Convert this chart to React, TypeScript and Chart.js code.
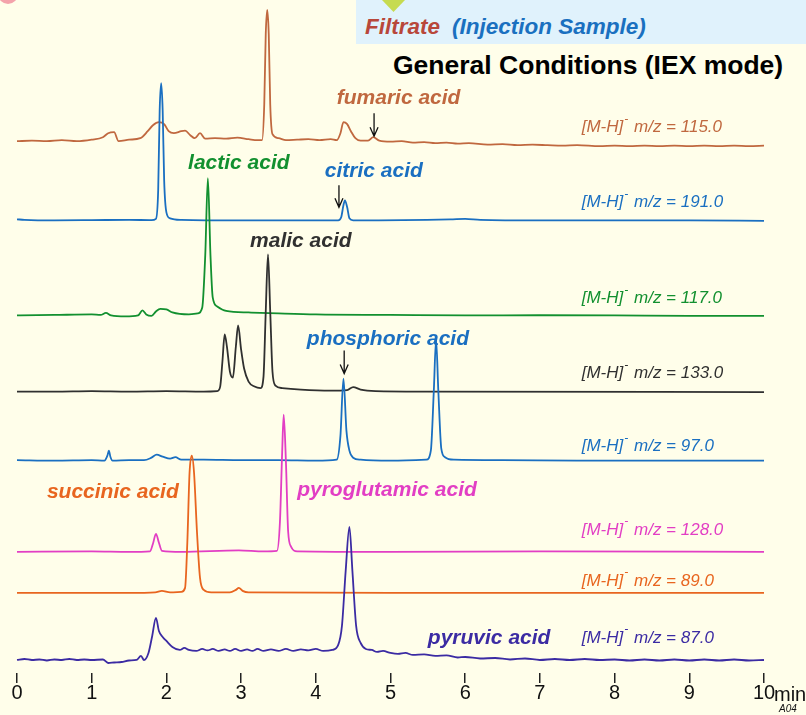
import React, { useEffect, useRef } from 'react';
import { Chart, registerables } from 'chart.js';

Chart.register(...registerables);

type Pt = [number, number];

// ---------------- DATA ----------------
const TIME_MIN = 0;
const TIME_MAX = 10;
const TIME_STEP = 1;

const COMPOUNDS = ['fumaric acid', 'citric acid', 'lactic acid', 'malic acid', 'phosphoric acid', 'pyroglutamic acid', 'succinic acid', 'pyruvic acid'];
const MZ_VALUES = ['115.0', '191.0', '117.0', '133.0', '97.0', '128.0', '89.0', '87.0'];
// stacking offset (baseline) of each trace, arbitrary intensity units
const BASELINES = [52.8, 45.2, 35.7, 28.1, 21.2, 12.1, 8.0, 1.2];

// [time (min), signal above baseline]
const FUMARIC: Pt[] = [
  [0, 0.3], [0.2, 0.35], [0.4, 0.3], [0.6, 0.4], [0.8, 0.3], [1.0, 0.45], [1.15, 0.7], [1.22, 1.1], [1.3, 1.2], [1.36, 0.3],
  [1.5, 0.45], [1.65, 0.6], [1.75, 1.3], [1.82, 1.9], [1.9, 2.2], [1.97, 2.0], [2.03, 1.3], [2.1, 1.1], [2.2, 1.3], [2.25, 1.35],
  [2.32, 0.9], [2.38, 0.6], [2.45, 1.1], [2.52, 0.55], [2.65, 0.6], [2.8, 0.55], [2.95, 0.65], [3.1, 0.5], [3.22, 0.4], [3.28, 0.4],
  [3.31, 4], [3.33, 11], [3.35, 13.4], [3.37, 11], [3.39, 4], [3.42, 1.0], [3.5, 0.6], [3.6, 0.4], [3.75, 0.45], [3.9, 0.5],
  [4.05, 0.4], [4.2, 0.5], [4.28, 0.4], [4.33, 1.1], [4.37, 2.2], [4.42, 2.0], [4.47, 1.3], [4.53, 0.6], [4.6, 0.35], [4.7, 0.35],
  [4.77, 0.7], [4.85, 0.35], [5.0, 0.25], [5.15, 0.3], [5.3, 0.15], [5.45, 0.2], [5.6, 0.1], [5.75, 0.15], [5.9, 0.05], [6.05, 0.1],
  [6.3, -0.05], [6.5, 0.0], [6.7, -0.1], [6.9, -0.05], [7.1, -0.1], [7.3, -0.15], [7.5, -0.1], [7.8, -0.2], [8.0, -0.15], [8.2, -0.2],
  [8.4, -0.15], [8.6, -0.2], [8.8, -0.15], [9.0, -0.2], [9.2, -0.15], [9.4, -0.2], [9.6, -0.15], [9.8, -0.2], [10, -0.15],
];
const CITRIC: Pt[] = [
  [0, 0.1], [0.1, 0.05], [0.5, 0], [1.0, 0.02], [1.5, 0.05], [1.8, 0.02], [1.86, 0.15], [1.89, 3], [1.91, 11], [1.93, 13.7],
  [1.95, 11], [1.97, 4], [2.0, 0.8], [2.05, 0.2], [2.2, 0.05], [3.0, 0], [4.3, 0], [4.34, 0.3], [4.37, 1.5], [4.39, 2.0],
  [4.42, 1.3], [4.45, 0.2], [4.5, 0], [5.8, 0.1], [6.0, 0.15], [6.2, 0.05], [7, 0], [8, 0], [9, 0], [10, -0.05],
];
const LACTIC: Pt[] = [
  [0, 0], [0.5, 0.05], [1.0, 0.1], [1.12, 0.05], [1.19, 0.25], [1.26, 0], [1.45, -0.1], [1.62, 0], [1.68, 0.5], [1.73, 0.1],
  [1.8, -0.05], [1.86, 0.4], [1.92, 0.65], [2.0, 0.6], [2.08, 0.3], [2.3, 0.1], [2.42, 0.2], [2.48, 0.8], [2.52, 6], [2.555, 13.7],
  [2.59, 6], [2.62, 1.8], [2.68, 0.9], [2.8, 0.45], [3.1, 0.3], [3.5, 0.2], [4.0, 0.1], [5, 0.05], [6, 0], [7, 0.02],
  [8, 0], [9, -0.05], [10, -0.05],
];
const MALIC: Pt[] = [
  [0, 0], [0.5, 0], [1.0, 0.05], [1.5, 0], [2.0, 0.05], [2.5, 0], [2.68, 0.05], [2.72, 0.5], [2.75, 3], [2.78, 5.7],
  [2.81, 4.5], [2.85, 2], [2.89, 1.4], [2.93, 4.5], [2.96, 6.6], [3.0, 4.2], [3.04, 2.3], [3.1, 1.0], [3.18, 0.5], [3.26, 0.35],
  [3.3, 1.5], [3.33, 8], [3.36, 13.7], [3.39, 8], [3.42, 2], [3.46, 0.6], [3.55, 0.35], [3.8, 0.2], [4.2, 0.1], [4.42, 0.15],
  [4.5, 0.45], [4.6, 0.2], [4.8, 0.05], [5.5, 0], [10, -0.05],
];
const PHOSPHORIC: Pt[] = [
  [0, 0.05], [0.5, 0], [1.0, 0.05], [1.17, 0], [1.21, 0.5], [1.23, 1.0], [1.25, 0.4], [1.28, 0], [1.5, 0.05], [1.7, 0.05],
  [1.8, 0.3], [1.87, 0.6], [1.95, 0.4], [2.05, 0.2], [2.12, 0.35], [2.2, 0.1], [2.5, 0.1], [3.0, 0.05], [3.5, 0.05], [4.0, 0],
  [4.28, 0.1], [4.33, 2.5], [4.37, 8.2], [4.41, 3], [4.45, 1.0], [4.5, 0.3], [4.6, 0.1], [5.0, 0], [5.48, 0.1], [5.54, 1.0],
  [5.58, 7], [5.61, 12.1], [5.64, 7], [5.68, 1.2], [5.73, 0.35], [5.85, 0.1], [6.5, 0.05], [7.5, 0], [8.5, 0], [10, 0],
];
const PYROGLUTAMIC: Pt[] = [
  [0, 0], [1.0, 0.05], [1.5, 0], [1.78, 0.05], [1.82, 0.8], [1.86, 1.8], [1.9, 0.9], [1.94, 0.1], [2.2, 0], [2.97, 0.15],
  [3.3, 0.05], [3.48, 0.1], [3.52, 3], [3.55, 10], [3.57, 13.7], [3.6, 9], [3.63, 2], [3.67, 0.5], [3.75, 0.05], [5, 0],
  [7, 0.05], [10, 0],
];
const SUCCINIC: Pt[] = [
  [0, 0], [1.5, 0], [1.85, 0.05], [1.94, 0.2], [2.05, 0.05], [2.2, 0.1], [2.25, 0.5], [2.28, 5], [2.31, 12], [2.34, 13.7],
  [2.37, 12], [2.41, 6], [2.45, 1.5], [2.5, 0.3], [2.6, 0.05], [2.85, 0.05], [2.93, 0.3], [2.97, 0.5], [3.02, 0.2], [3.1, 0.05],
  [5, 0], [10, 0],
];
const PYRUVIC: Pt[] = [
  [0, 0.1], [0.1, 0.2], [0.2, 0.1], [0.3, 0.15], [0.4, 0.05], [0.5, 0.15], [0.6, 0.1], [0.7, 0.2], [0.8, 0.1], [0.9, 0.15],
  [1.0, 0.1], [1.15, 0.15], [1.22, -0.2], [1.3, -0.15], [1.4, -0.1], [1.5, 0.05], [1.6, 0.1], [1.66, 0.5], [1.7, 0.1], [1.76, 0.8],
  [1.81, 2.5], [1.86, 4.3], [1.9, 3.0], [1.95, 2.4], [2.0, 2.0], [2.08, 1.4], [2.18, 1.1], [2.24, 1.3], [2.3, 1.1], [2.4, 1.0],
  [2.48, 1.2], [2.55, 1.05], [2.62, 1.2], [2.7, 1.0], [2.78, 1.15], [2.85, 1.0], [2.92, 1.2], [3.0, 1.0], [3.08, 1.15], [3.15, 1.0],
  [3.22, 1.2], [3.3, 1.0], [3.4, 1.15], [3.5, 1.0], [3.6, 1.2], [3.7, 1.0], [3.8, 1.15], [3.9, 1.05], [4.0, 1.2], [4.1, 1.0],
  [4.22, 1.1], [4.3, 1.6], [4.35, 3.5], [4.4, 9], [4.45, 13.4], [4.49, 9], [4.54, 3.5], [4.6, 1.8], [4.67, 1.2], [4.75, 1.1],
  [4.82, 0.9], [4.9, 1.0], [5.0, 0.8], [5.1, 0.7], [5.2, 0.8], [5.3, 0.6], [5.45, 0.65], [5.6, 0.5], [5.75, 0.55], [5.9, 0.35],
  [6.0, 0.4], [6.2, 0.25], [6.4, 0.3], [6.6, 0.15], [6.8, 0.25], [7.0, 0.1], [7.2, 0.2], [7.4, 0.1], [7.6, 0.2], [7.8, 0.1],
  [8.0, 0.15], [8.2, 0.05], [8.4, 0.15], [8.6, 0.05], [8.8, 0.15], [9.0, 0.05], [9.2, 0.15], [9.4, 0.05], [9.6, 0.15], [9.8, 0.05],
  [10, 0.1],
];

const TRACES: Pt[][] = [FUMARIC, CITRIC, LACTIC, MALIC, PHOSPHORIC, PYROGLUTAMIC, SUCCINIC, PYRUVIC];

// ---------------- STYLE / LAYOUT ----------------
const COLORS = ['#c0683f', '#1a6fc1', '#12902f', '#303030', '#1a6fc1', '#e23ec4', '#e8651f', '#3b2ba3'];
// compound label anchor [time, y] (left, middle)
const NAME_POS: Pt[] = [[4.28, 57.4], [4.12, 50.1], [2.29, 50.9], [3.12, 43.1], [3.88, 33.3], [3.75, 18.3], [0.4, 18.1], [5.5, 3.5]];
const MZ_LABEL_T = 7.56;
const MZ_LABEL_Y = [54.5, 47.0, 37.4, 29.9, 22.6, 14.3, 9.2, 3.5];
// arrows: [time, yTop, yTip]
const ARROWS: [number, number, number][] = [[4.78, 55.9, 53.6], [4.31, 48.7, 46.5], [4.38, 32.2, 29.9]];

const Y_MAX = 67.2;
const SANS = '"Liberation Sans", Arial, Helvetica, sans-serif';
const NARROW = '"Liberation Sans Narrow", "Arial Narrow", "Liberation Sans", sans-serif';
const BG = '#fffeea';

const labelsPlugin = {
  id: 'chromLabels',
  afterDatasetsDraw(chart: any) {
    const { ctx } = chart;
    const xs = chart.scales.x;
    const ys = chart.scales.y;
    ctx.save();
    // compound names
    ctx.textBaseline = 'middle';
    ctx.textAlign = 'left';
    COMPOUNDS.forEach((name, i) => {
      ctx.font = `italic bold 21px ${SANS}`;
      ctx.fillStyle = COLORS[i];
      ctx.fillText(name, xs.getPixelForValue(NAME_POS[i][0]), ys.getPixelForValue(NAME_POS[i][1]));
    });
    // m/z labels
    MZ_VALUES.forEach((mz, i) => {
      const px = xs.getPixelForValue(MZ_LABEL_T);
      const py = ys.getPixelForValue(MZ_LABEL_Y[i]);
      ctx.fillStyle = COLORS[i];
      ctx.font = `italic 17px ${SANS}`;
      ctx.fillText('[M-H]', px, py);
      const w1 = ctx.measureText('[M-H]').width;
      ctx.font = `italic 12px ${SANS}`;
      ctx.fillText('-', px + w1 + 1, py - 8);
      const w2 = ctx.measureText('-').width;
      ctx.font = `italic 17px ${SANS}`;
      ctx.fillText(` m/z = ${mz}`, px + w1 + w2 + 2, py);
    });
    // arrows
    ctx.strokeStyle = '#111';
    ctx.lineWidth = 1.3;
    ARROWS.forEach(([t, y1, y2]) => {
      const px = xs.getPixelForValue(t);
      const p1 = ys.getPixelForValue(y1);
      const p2 = ys.getPixelForValue(y2);
      ctx.beginPath();
      ctx.moveTo(px, p1);
      ctx.lineTo(px, p2);
      ctx.moveTo(px - 4, p2 - 9);
      ctx.lineTo(px, p2);
      ctx.lineTo(px + 4, p2 - 9);
      ctx.stroke();
    });
    // axis unit
    const xEnd = xs.getPixelForValue(TIME_MAX);
    ctx.fillStyle = '#111';
    ctx.textBaseline = 'alphabetic';
    ctx.font = `20px ${NARROW}`;
    ctx.fillText('min', xEnd + 10, xs.top + 28);
    ctx.font = `italic 10px ${SANS}`;
    ctx.fillText('A04', xEnd + 15, xs.top + 39);
    ctx.restore();
  },
};

export default function App() {
  const ref = useRef<HTMLCanvasElement | null>(null);

  useEffect(() => {
    if (!ref.current) return;
    const datasets = TRACES.map((pts, i) => ({
      label: COMPOUNDS[i],
      data: pts.map(([t, v]) => ({ x: t, y: BASELINES[i] + v })),
      borderColor: COLORS[i],
      backgroundColor: COLORS[i],
      borderWidth: 1.8,
      pointRadius: 0,
      cubicInterpolationMode: 'monotone' as const,
      fill: false,
      clip: false as any,
      order: TRACES.length - i,
    }));
    const chart = new Chart(ref.current, {
      type: 'line',
      data: { datasets },
      options: {
        animation: false,
        responsive: false,
        devicePixelRatio: 1,
        layout: { padding: { left: 17, right: 42, top: 0, bottom: 12 } },
        plugins: { legend: { display: false }, tooltip: { enabled: false } },
        scales: {
          x: {
            type: 'linear',
            min: TIME_MIN,
            max: TIME_MAX,
            border: { display: false },
            grid: { drawOnChartArea: false, drawTicks: true, tickLength: 10, color: '#222', lineWidth: 1.5 },
            ticks: { stepSize: TIME_STEP, padding: 0, color: '#111', font: { family: NARROW, size: 20, lineHeight: 1.0 } },
          },
          y: { type: 'linear', min: 0, max: Y_MAX, display: false },
        },
      },
      plugins: [labelsPlugin],
    });
    return () => chart.destroy();
  }, []);

  return (
    <div style={{ position: 'fixed', left: 0, top: 0, width: 806, height: 715, background: BG, overflow: 'hidden' }}>
      <div style={{ position: 'absolute', left: -2, top: -16, width: 20, height: 20, borderRadius: '50%', background: '#f4a3ab' }} />
      <div style={{ position: 'absolute', left: 356, top: 0, width: 450, height: 44, background: '#e0f2fc' }} />
      <div style={{ position: 'absolute', left: 382, top: 0, width: 23, height: 12, background: '#c6db50', clipPath: 'polygon(0 0, 100% 0, 50% 100%)' }} />
      <div style={{ position: 'absolute', left: 365, top: 16, whiteSpace: 'nowrap', font: `italic bold 22.5px/22px ${SANS}` }}>
        <span style={{ color: '#b8473a' }}>Filtrate</span>
        <span style={{ color: '#1a70c0', marginLeft: 12 }}>(Injection Sample)</span>
      </div>
      <div style={{ position: 'absolute', left: 393, top: 52, whiteSpace: 'nowrap', color: '#000', font: `bold 26.5px/26px ${SANS}` }}>
        General Conditions (IEX mode)
      </div>
      <canvas ref={ref} width={806} height={715} style={{ position: 'absolute', left: 0, top: 0, width: 806, height: 715 }} />
    </div>
  );
}
